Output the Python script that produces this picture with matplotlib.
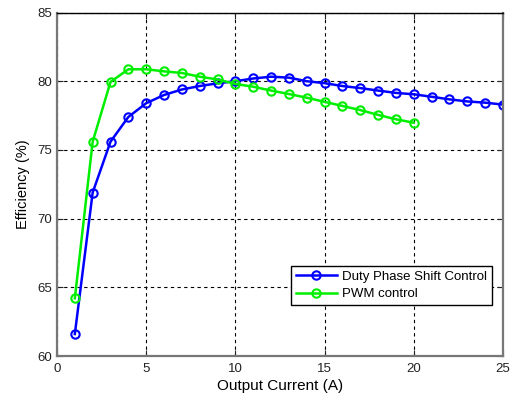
import matplotlib
matplotlib.use("Agg")
import matplotlib.pyplot as plt

# Data
dpsc_current = list(range(1, 26))
dpsc_eff = [61.6, 71.9, 75.6, 77.4, 78.4, 79.0, 79.4, 79.65, 79.85, 80.0,
            80.2, 80.33, 80.26, 80.0, 79.86, 79.65, 79.5, 79.32, 79.15, 79.05,
            78.87, 78.68, 78.53, 78.44, 78.3]
pwm_current = list(range(1, 21))
pwm_eff = [64.2, 75.6, 79.95, 80.87, 80.87, 80.72, 80.6, 80.33, 80.13, 79.8,
           79.6, 79.32, 79.07, 78.8, 78.5, 78.2, 77.9, 77.55, 77.23, 76.98]

x_ticks = [0, 5, 10, 15, 20, 25]
y_ticks = [60, 65, 70, 75, 80, 85]

plt.rcParams['font.family'] = ['Liberation Sans', 'DejaVu Sans']

fig = plt.figure(figsize=(5.13, 3.98), dpi=100)
ax = fig.add_axes([0.1111, 0.1055, 0.8694, 0.863])

ax.plot(dpsc_current, dpsc_eff, color='#0000ff', lw=1.8, marker='o',
        markersize=6, markerfacecolor='none', markeredgewidth=1.5,
        label='Duty Phase Shift Control')
ax.plot(pwm_current, pwm_eff, color='#00ee00', lw=1.8, marker='o',
        markersize=6, markerfacecolor='none', markeredgewidth=1.5,
        label='PWM control')

ax.set_xlim(0, 25)
ax.set_ylim(60, 85)
ax.set_xticks(x_ticks)
ax.set_yticks(y_ticks)
ax.grid(True, color='black', linestyle=(0, (3, 3)), linewidth=0.8)
ax.tick_params(direction='in', labelsize=9.5, length=4, top=True, right=True,
               colors='#222222')
ax.tick_params(axis='x', pad=5)

for name, sp in ax.spines.items():
    if name == 'top':
        sp.set_color('black')
        sp.set_linewidth(1.0)
    else:
        sp.set_color('#777777')
        sp.set_linewidth(1.6)

ax.set_xlabel('Output Current (A)', fontsize=11, labelpad=3)
ax.set_ylabel('Efficiency (%)', fontsize=10.5, labelpad=5)

leg = ax.legend(loc='lower right', bbox_to_anchor=(0.975, 0.149), numpoints=1,
                fontsize=9.5, fancybox=False, framealpha=1, edgecolor='black',
                borderpad=0.35, borderaxespad=0, handlelength=3.1,
                handletextpad=0.4, labelspacing=0.4)
leg.get_frame().set_linewidth(1.0)

fig.savefig('out.png', dpi=100)
